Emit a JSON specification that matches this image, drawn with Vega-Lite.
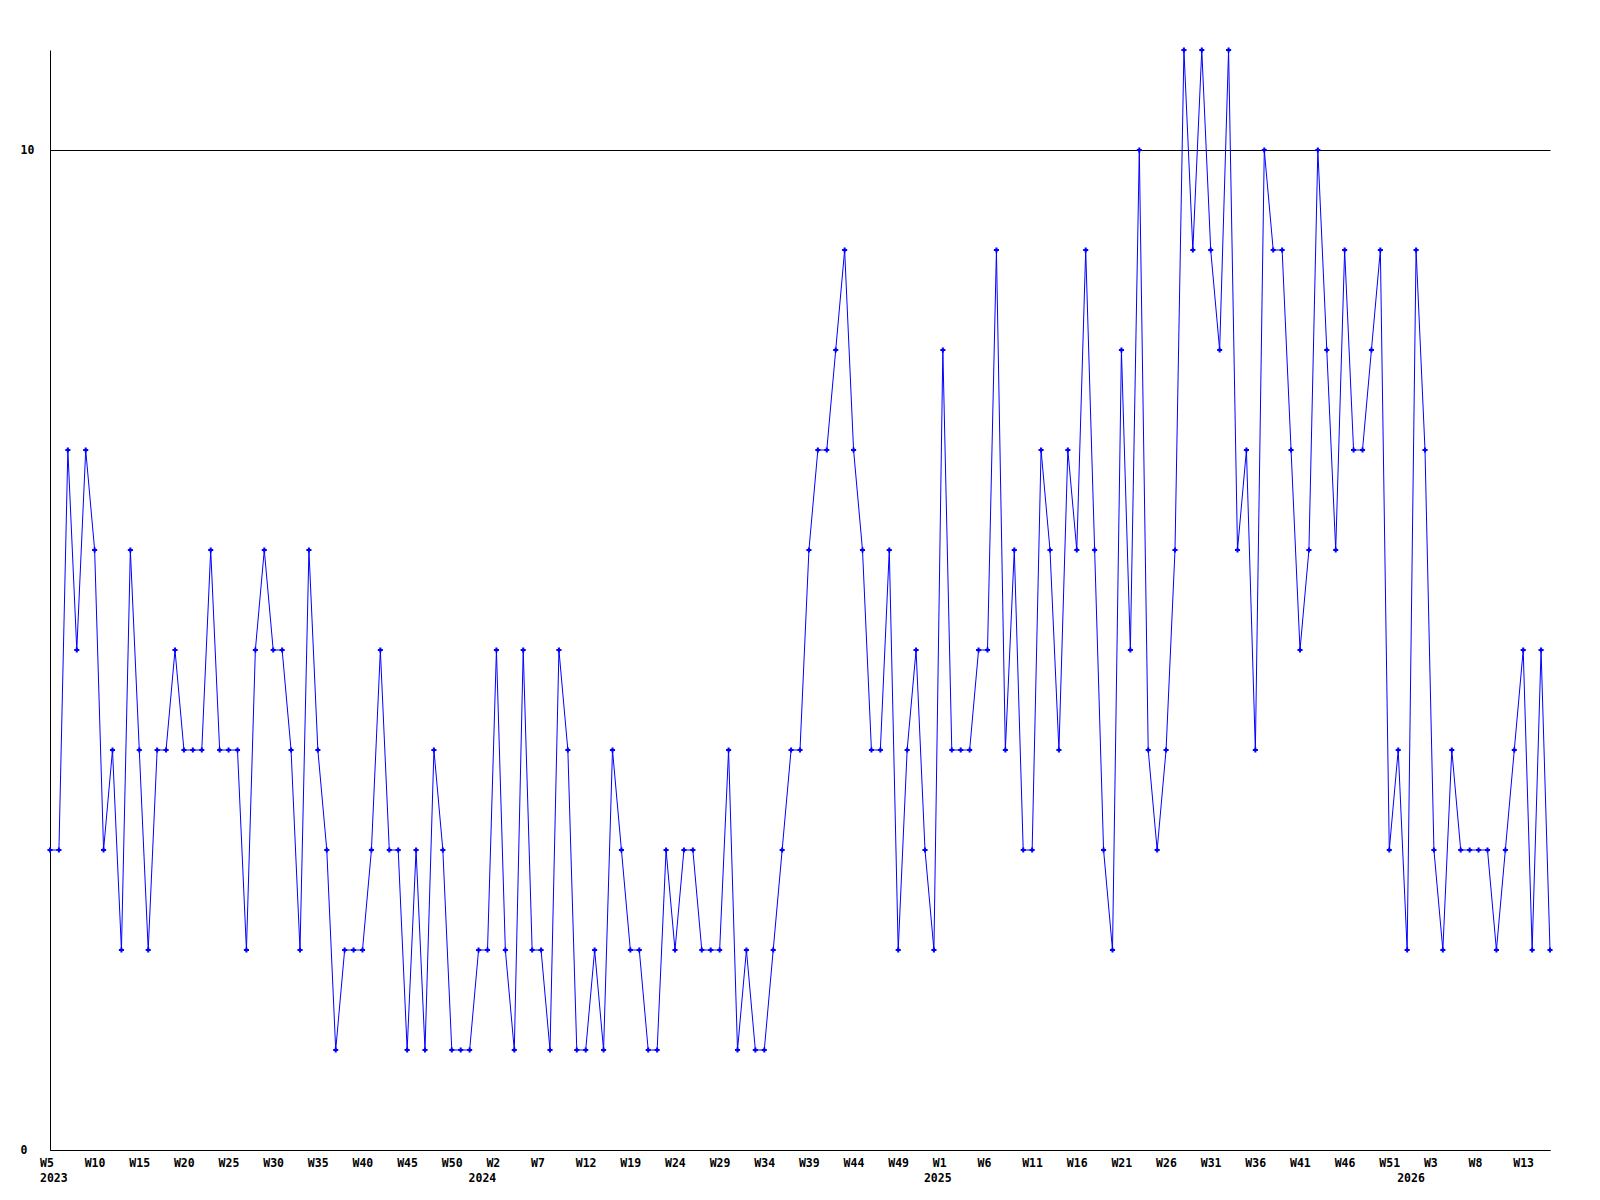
{
  "$schema": "https://vega.github.io/schema/vega-lite/v6.json",
  "width": 1500,
  "height": 1100,
  "autosize": {"type": "none"},
  "padding": {"left": 50, "top": 50, "right": 50, "bottom": 50},
  "background": "white",
  "config": {
    "view": {"stroke": null},
    "axis": {
      "labelFont": "DejaVu Sans Mono",
      "labelFontSize": 11.5,
      "labelFontWeight": "bold",
      "labelColor": "#000000",
      "domainColor": "#000000",
      "domainWidth": 1,
      "ticks": false,
      "title": null
    }
  },
  "data": {
    "values": [
      {"idx":0,"value":3},{"idx":1,"value":3},{"idx":2,"value":7},{"idx":3,"value":5},{"idx":4,"value":7},{"idx":5,"value":6},{"idx":6,"value":3},{"idx":7,"value":4},{"idx":8,"value":2},{"idx":9,"value":6},
      {"idx":10,"value":4},{"idx":11,"value":2},{"idx":12,"value":4},{"idx":13,"value":4},{"idx":14,"value":5},{"idx":15,"value":4},{"idx":16,"value":4},{"idx":17,"value":4},{"idx":18,"value":6},{"idx":19,"value":4},
      {"idx":20,"value":4},{"idx":21,"value":4},{"idx":22,"value":2},{"idx":23,"value":5},{"idx":24,"value":6},{"idx":25,"value":5},{"idx":26,"value":5},{"idx":27,"value":4},{"idx":28,"value":2},{"idx":29,"value":6},
      {"idx":30,"value":4},{"idx":31,"value":3},{"idx":32,"value":1},{"idx":33,"value":2},{"idx":34,"value":2},{"idx":35,"value":2},{"idx":36,"value":3},{"idx":37,"value":5},{"idx":38,"value":3},{"idx":39,"value":3},
      {"idx":40,"value":1},{"idx":41,"value":3},{"idx":42,"value":1},{"idx":43,"value":4},{"idx":44,"value":3},{"idx":45,"value":1},{"idx":46,"value":1},{"idx":47,"value":1},{"idx":48,"value":2},{"idx":49,"value":2},
      {"idx":50,"value":5},{"idx":51,"value":2},{"idx":52,"value":1},{"idx":53,"value":5},{"idx":54,"value":2},{"idx":55,"value":2},{"idx":56,"value":1},{"idx":57,"value":5},{"idx":58,"value":4},{"idx":59,"value":1},
      {"idx":60,"value":1},{"idx":61,"value":2},{"idx":62,"value":1},{"idx":63,"value":4},{"idx":64,"value":3},{"idx":65,"value":2},{"idx":66,"value":2},{"idx":67,"value":1},{"idx":68,"value":1},{"idx":69,"value":3},
      {"idx":70,"value":2},{"idx":71,"value":3},{"idx":72,"value":3},{"idx":73,"value":2},{"idx":74,"value":2},{"idx":75,"value":2},{"idx":76,"value":4},{"idx":77,"value":1},{"idx":78,"value":2},{"idx":79,"value":1},
      {"idx":80,"value":1},{"idx":81,"value":2},{"idx":82,"value":3},{"idx":83,"value":4},{"idx":84,"value":4},{"idx":85,"value":6},{"idx":86,"value":7},{"idx":87,"value":7},{"idx":88,"value":8},{"idx":89,"value":9},
      {"idx":90,"value":7},{"idx":91,"value":6},{"idx":92,"value":4},{"idx":93,"value":4},{"idx":94,"value":6},{"idx":95,"value":2},{"idx":96,"value":4},{"idx":97,"value":5},{"idx":98,"value":3},{"idx":99,"value":2},
      {"idx":100,"value":8},{"idx":101,"value":4},{"idx":102,"value":4},{"idx":103,"value":4},{"idx":104,"value":5},{"idx":105,"value":5},{"idx":106,"value":9},{"idx":107,"value":4},{"idx":108,"value":6},{"idx":109,"value":3},
      {"idx":110,"value":3},{"idx":111,"value":7},{"idx":112,"value":6},{"idx":113,"value":4},{"idx":114,"value":7},{"idx":115,"value":6},{"idx":116,"value":9},{"idx":117,"value":6},{"idx":118,"value":3},{"idx":119,"value":2},
      {"idx":120,"value":8},{"idx":121,"value":5},{"idx":122,"value":10},{"idx":123,"value":4},{"idx":124,"value":3},{"idx":125,"value":4},{"idx":126,"value":6},{"idx":127,"value":11},{"idx":128,"value":9},{"idx":129,"value":11},
      {"idx":130,"value":9},{"idx":131,"value":8},{"idx":132,"value":11},{"idx":133,"value":6},{"idx":134,"value":7},{"idx":135,"value":4},{"idx":136,"value":10},{"idx":137,"value":9},{"idx":138,"value":9},{"idx":139,"value":7},
      {"idx":140,"value":5},{"idx":141,"value":6},{"idx":142,"value":10},{"idx":143,"value":8},{"idx":144,"value":6},{"idx":145,"value":9},{"idx":146,"value":7},{"idx":147,"value":7},{"idx":148,"value":8},{"idx":149,"value":9},
      {"idx":150,"value":3},{"idx":151,"value":4},{"idx":152,"value":2},{"idx":153,"value":9},{"idx":154,"value":7},{"idx":155,"value":3},{"idx":156,"value":2},{"idx":157,"value":4},{"idx":158,"value":3},{"idx":159,"value":3},
      {"idx":160,"value":3},{"idx":161,"value":3},{"idx":162,"value":2},{"idx":163,"value":3},{"idx":164,"value":4},{"idx":165,"value":5},{"idx":166,"value":2},{"idx":167,"value":5},{"idx":168,"value":2}
    ]
  },
  "encoding": {
    "x": {
      "field": "idx",
      "type": "quantitative",
      "scale": {"domain": [0, 168], "nice": false, "zero": false},
      "axis": {
        "values": [0,5,10,15,20,25,30,35,40,45,48,50,55,60,65,70,75,80,85,90,95,99,100,105,110,115,120,125,130,135,140,145,150,152,155,160,165],
        "labelExpr": "{'0':['W5','2023'],'5':'W10','10':'W15','15':'W20','20':'W25','25':'W30','30':'W35','35':'W40','40':'W45','45':'W50','48':[' ','2024'],'50':'W2','55':'W7','60':'W12','65':'W19','70':'W24','75':'W29','80':'W34','85':'W39','90':'W44','95':'W49','99':[' ','2025'],'100':'W1','105':'W6','110':'W11','115':'W16','120':'W21','125':'W26','130':'W31','135':'W36','140':'W41','145':'W46','150':'W51','152':[' ','2026'],'155':'W3','160':'W8','165':'W13'}[toString(datum.value)]",
        "labelAlign": "left",
        "labelBaseline": "top",
        "labelOffset": -10.5,
        "labelPadding": 7,
        "labelLineHeight": 15,
        "labelOverlap": false,
        "labelBound": false,
        "labelFlush": false,
        "grid": false
      }
    },
    "y": {
      "field": "value",
      "type": "quantitative",
      "scale": {"domain": [0, 11], "nice": false, "zero": true},
      "axis": {
        "values": [0, 10],
        "labelAlign": "left",
        "labelBaseline": "middle",
        "labelPadding": 30,
        "labelOverlap": false,
        "labelBound": false,
        "labelFlush": false,
        "grid": true,
        "gridColor": "#000000",
        "gridOpacity": 1,
        "gridWidth": 1
      }
    }
  },
  "layer": [
    {"mark": {"type": "line", "color": "#0000ff", "strokeWidth": 1, "interpolate": "linear"}},
    {"mark": {"type": "point", "shape": "cross", "size": 26, "filled": true, "color": "#0000ff", "opacity": 1}}
  ]
}
